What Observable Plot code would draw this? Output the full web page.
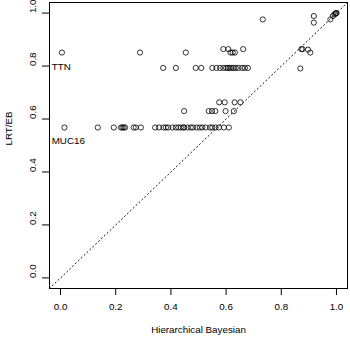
<!DOCTYPE html>
<html>
<head>
<meta charset="utf-8">
<script src="https://cdn.jsdelivr.net/npm/d3@7"></script>
<script src="https://cdn.jsdelivr.net/npm/@observablehq/plot@0.6"></script>
<style>
  html, body { margin: 0; padding: 0; background: #fff; }
</style>
</head>
<body>
<div id="chart"></div>
<script>
// Hierarchical Bayesian (x) vs LRT/EB (y)
const hb = [
  // row ~0.851
  0.005, 0.288, 0.454,
  // upper cluster
  0.590, 0.608, 0.616, 0.624, 0.632, 0.662,
  // top right
  0.733, 0.918, 0.918, 0.978, 0.987, 0.993, 0.996, 0.999, 1.0,
  0.873, 0.877, 0.897, 0.905, 0.869,
  // row ~0.793
  0.372, 0.418, 0.490, 0.510, 0.550, 0.565, 0.578, 0.590, 0.600, 0.607, 0.613, 0.620, 0.627, 0.635, 0.645, 0.658, 0.668, 0.679,
  // row ~0.568
  0.014, 0.135, 0.193, 0.219, 0.224, 0.229, 0.234, 0.265, 0.273, 0.291,
  0.343, 0.357, 0.373, 0.382, 0.390, 0.406, 0.418, 0.427, 0.436, 0.445,
  0.448, 0.460, 0.472, 0.480, 0.494, 0.505, 0.514, 0.526, 0.542, 0.550, 0.562, 0.574, 0.592, 0.610,
  // row ~0.63
  0.448, 0.537, 0.549, 0.561, 0.598, 0.628,
  // row ~0.663
  0.575, 0.595, 0.631, 0.652
];
const lrt = [
  0.851, 0.851, 0.851,
  0.864, 0.864, 0.851, 0.851, 0.851, 0.864,
  0.976, 0.989, 0.964, 0.976, 0.989, 0.995, 0.998, 1.0, 1.0,
  0.864, 0.864, 0.862, 0.851, 0.791,
  0.793, 0.793, 0.793, 0.793, 0.793, 0.793, 0.793, 0.793, 0.793, 0.793, 0.793, 0.793, 0.793, 0.793, 0.793, 0.793, 0.793, 0.793,
  0.568, 0.568, 0.568, 0.568, 0.568, 0.568, 0.568, 0.568, 0.568, 0.568,
  0.568, 0.568, 0.568, 0.568, 0.568, 0.568, 0.568, 0.568, 0.568, 0.568,
  0.568, 0.568, 0.568, 0.568, 0.568, 0.568, 0.568, 0.568, 0.568, 0.568, 0.568, 0.568, 0.568, 0.568,
  0.630, 0.630, 0.630, 0.630, 0.630, 0.630,
  0.663, 0.663, 0.663, 0.663
];
const xTicks = [0, 0.2, 0.4, 0.6, 0.8, 1.0];
const yTicks = [0, 0.2, 0.4, 0.6, 0.8, 1.0];
const diag = [-0.04, 1.04];
const labels = ["TTN", "MUC16"];
const labelY = [0.796, 0.519];
const xTitle = "Hierarchical Bayesian";
const yTitle = "LRT/EB";

const points = hb.map((x, i) => ({x, y: lrt[i]}));
const labelData = labels.map((t, i) => ({t, y: labelY[i]}));

const chart = Plot.plot({
  width: 350,
  height: 340,
  marginLeft: 49,
  marginRight: 3,
  marginTop: 2,
  marginBottom: 52,
  style: {fontFamily: "'Liberation Sans', Arial, Helvetica, sans-serif", fontSize: "9.8px", background: "#fff", color: "#000"},
  x: {domain: [-0.04, 1.04]},
  y: {domain: [-0.04, 1.04]},
  marks: [
    Plot.line(diag, {x: d => d, y: d => d, stroke: "#000", strokeWidth: 1, strokeDasharray: "1,3"}),
    Plot.dot(points, {x: "x", y: "y", r: 2.6, stroke: "#000", strokeWidth: 0.8, fill: "none"}),
    Plot.text(labelData, {x: -0.032, y: "y", text: "t", textAnchor: "start", fill: "#000", fontSize: 9.8}),
    Plot.axisX({ticks: xTicks, tickSize: 7, tickPadding: 8, tickFormat: d => d.toFixed(1), label: null, stroke: "#000"}),
    Plot.axisY({ticks: yTicks, tickSize: 7, tickFormat: () => "", label: null, stroke: "#000"}),
    Plot.text(yTicks, {y: d => d, frameAnchor: "left", dx: -17, rotate: -90, text: d => d.toFixed(1), fill: "#000"}),
    Plot.text([xTitle], {frameAnchor: "bottom", dy: 44, text: d => d, fill: "#000"}),
    Plot.text([yTitle], {frameAnchor: "left", dx: -41, rotate: -90, text: d => d, fill: "#000"}),
    Plot.frame({stroke: "#000", strokeWidth: 1})
  ]
});
document.getElementById("chart").appendChild(chart);
</script>
</body>
</html>
